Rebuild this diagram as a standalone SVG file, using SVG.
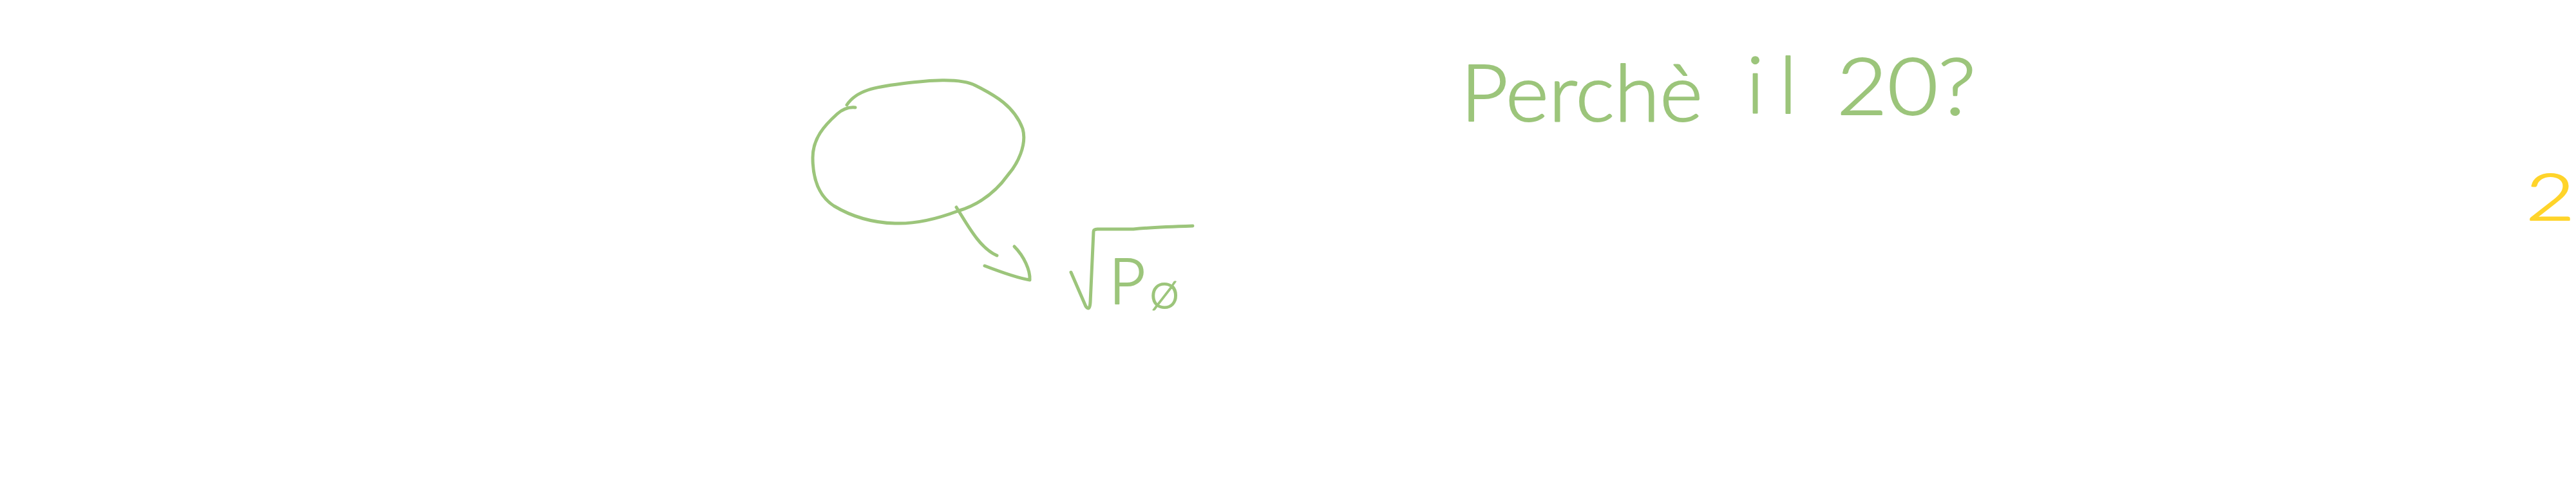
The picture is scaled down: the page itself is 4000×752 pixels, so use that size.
<svg xmlns="http://www.w3.org/2000/svg" width="4000" height="752" viewBox="0 0 4000 752">
<style>
.ink{fill:none;stroke:#9cc57b;stroke-width:5;stroke-linecap:round;stroke-linejoin:round}
.txt{fill:#9cc57b;stroke:#9cc57b;stroke-width:2;stroke-linejoin:round;font-family:Lato,"Liberation Sans",sans-serif;font-weight:300}
.ytxt{fill:#ffd42a;stroke:#ffd42a;stroke-width:2;stroke-linejoin:round;font-family:Lato,"Liberation Sans",sans-serif;font-weight:300}
</style>
<rect width="4000" height="752" fill="#ffffff"/>
<g id="bubble">
<path class="ink" stroke-width="5.5" d="M1315,163 C1330,140 1360,135 1400,130 C1440,125 1490,120 1515,133 C1545,148 1575,165 1588,200 C1595,225 1580,255 1565,272 C1545,300 1520,318 1487,328 C1450,342 1420,348 1390,347 C1350,346 1320,335 1295,320 C1272,305 1262,280 1262,245 C1262,215 1280,195 1300,177 C1308,170 1318,166 1328,167"/>
</g>
<g id="connectors">
<path class="ink" stroke-width="4" d="M1485,322 C1500,345 1520,385 1548,397"/>
<path class="ink" stroke-width="4" d="M1575,383 C1590,398 1600,420 1599,435 C1580,432 1555,423 1529,413"/>
</g>
<g id="sqrt-p0">
<path class="ink" d="M1663,423 L1686,476 Q1692,484 1693,470 L1698,360 Q1698,356 1704,356 L1760,356 Q1790,353 1852,351"/>
<text class="txt" x="1722" y="472" font-size="98">P<tspan x="1786" y="479" font-size="56">Ø</tspan></text>
</g>
<g id="question">
<text class="txt" font-size="122"><tspan x="2268" y="188" textLength="376" lengthAdjust="spacingAndGlyphs">Perchè</tspan> <tspan x="2712" y="176" textLength="78" lengthAdjust="spacing">il</tspan> <tspan x="2852" y="178" textLength="216" lengthAdjust="spacingAndGlyphs">20?</tspan></text>
</g>
<g id="yellow-two">
<text class="ytxt" x="3922" y="342" font-size="100" textLength="76" lengthAdjust="spacingAndGlyphs">2</text>
</g>
</svg>
